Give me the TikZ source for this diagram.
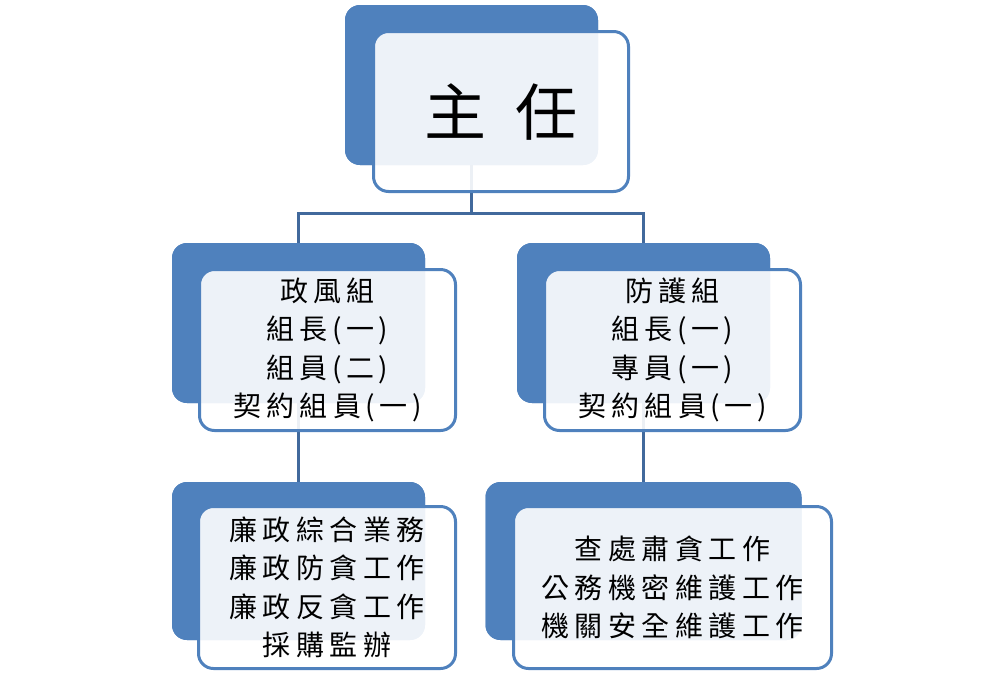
\documentclass[tikz,border=0pt]{standalone}
\usepackage{fontspec}
\newfontfamily\cjk[LetterSpace=19.5]{Noto Sans CJK TC}
\newfontfamily\cjkbig{Noto Sans CJK TC}
\definecolor{accent}{HTML}{4F81BD}
\definecolor{connclr}{HTML}{41699C}
\newcommand{\lpar}{\hspace{4.5pt}(\hspace{4.5pt}}
\newcommand{\rpar}{\hspace{4.5pt})}
\begin{document}
\begin{tikzpicture}[x=1pt,y=-1pt,
  backbox/.style={fill=accent, draw=none, rounded corners=15pt, inner sep=0pt},
  frontbox/.style={fill=white, fill opacity=0.9, text opacity=1, draw=accent, line width=3pt,
     rounded corners=15pt, inner sep=0pt, align=center, font=\cjk\fontsize{28}{38.5}\selectfont},
  connector/.style={draw=connclr, line width=3pt}]
\useasboundingbox (0,0) rectangle (1002,673);
% back boxes (positions only)
\path (471.5,85) node[backbox, minimum width=253pt, minimum height=160pt] (topB) {};
\path (298.5,323) node[backbox, minimum width=253pt, minimum height=160pt] (mlB) {};
\path (643.5,323) node[backbox, minimum width=253pt, minimum height=160pt] (mrB) {};
\path (298.5,561) node[backbox, minimum width=253pt, minimum height=158pt] (blB) {};
\path (643.5,561) node[backbox, minimum width=316pt, minimum height=158pt] (brB) {};
% connectors (behind front boxes)
\coordinate (jn) at (471.5,213);
\draw[connector] (topB.south) -- (jn);
\draw[connector] (mlB.north) |- (jn) -| (mrB.north);
\draw[connector] (mlB.south) -- (blB.north);
\draw[connector] (mrB.south) -- (brB.north);
% redraw back boxes over connectors
\path (topB.center) node[backbox, minimum width=253pt, minimum height=160pt] {};
\path (mlB.center) node[backbox, minimum width=253pt, minimum height=160pt] {};
\path (mrB.center) node[backbox, minimum width=253pt, minimum height=160pt] {};
\path (blB.center) node[backbox, minimum width=253pt, minimum height=158pt] {};
\path (brB.center) node[backbox, minimum width=316pt, minimum height=158pt] {};
% front boxes
\node[frontbox, minimum width=255pt, minimum height=160pt, font=\cjkbig\fontsize{62}{62}\selectfont] (topF) at (501,111.5) {主\hspace{30pt}任};
\node[frontbox, minimum width=256pt, minimum height=161pt] (mlF) at (327.5,350)
  {政風組\\組長\lpar 一\rpar\\組員\lpar 二\rpar\\契約組員\lpar 一\rpar};
\node[frontbox, minimum width=256pt, minimum height=161pt] (mrF) at (672.5,350)
  {防護組\\組長\lpar 一\rpar\\專員\lpar 一\rpar\\契約組員\lpar 一\rpar};
\node[frontbox, minimum width=257pt, minimum height=162pt] (blF) at (327,587.5)
  {廉政綜合業務\\廉政防貪工作\\廉政反貪工作\\採購監辦};
\node[frontbox, minimum width=318pt, minimum height=162pt] (brF) at (672.5,587.5)
  {查處肅貪工作\\公務機密維護工作\\機關安全維護工作};
\end{tikzpicture}
\end{document}
